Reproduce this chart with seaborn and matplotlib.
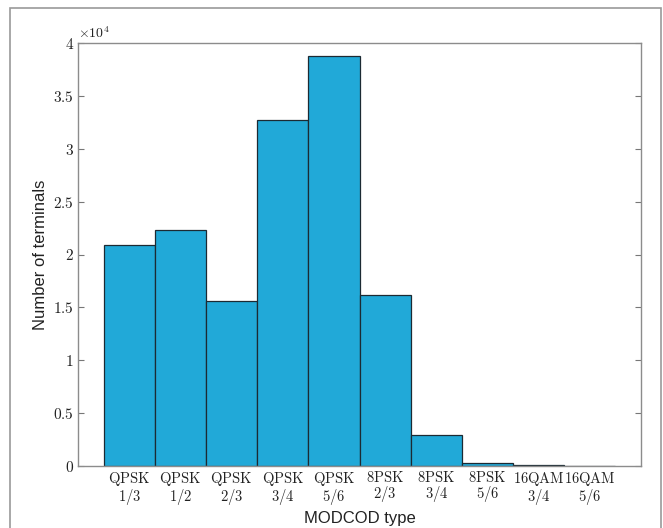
import numpy as np
import pandas as pd
import matplotlib
matplotlib.use('Agg')
import matplotlib.pyplot as plt
import matplotlib.patches as patches
from matplotlib.ticker import FixedLocator, FuncFormatter
import seaborn as sns

# values (number of terminals per MODCOD)
modulations = ['QPSK', 'QPSK', 'QPSK', 'QPSK', 'QPSK', '8PSK', '8PSK', '8PSK', '16QAM', '16QAM']
code_rates = ['1/3', '1/2', '2/3', '3/4', '5/6', '2/3', '3/4', '5/6', '3/4', '5/6']
counts = [20900, 22330, 15630, 32700, 38800, 16130, 2870, 250, 60, 5]
y_ticks = [0, 5000, 10000, 15000, 20000, 25000, 30000, 35000, 40000]

sns.set_style('white')
plt.rcParams['mathtext.fontset'] = 'cm'
plt.rcParams['font.family'] = ['Liberation Sans', 'DejaVu Sans']

df = pd.DataFrame({
    'modcod': [m + ' ' + r for m, r in zip(modulations, code_rates)],
    'count': counts,
})

fig = plt.figure(figsize=(6.63, 5.28), dpi=100)
ax_h = (465.7 - 43.3) / 528
ax = fig.add_axes([78 / 663, 1 - 465.7 / 528, (641 - 78) / 663, ax_h])

sns.barplot(data=df, x='modcod', y='count', ax=ax, color='#21a9d8', saturation=1,
            width=1.0, edgecolor='#1c2a33', linewidth=0.9)

ax.set_xlim(-1, 10)
ax.set_ylim(0, 40000)

# x tick labels in the LaTeX-like serif font
labels = [r'$\mathrm{%s}$' % m + '\n' + r'$%s$' % r for m, r in zip(modulations, code_rates)]
ax.set_xticks(range(len(labels)))
ax.set_xticklabels(labels, fontsize=10.5, color='#222222', linespacing=0.95)
ax.tick_params(axis='x', which='major', length=0, pad=3)
ax.xaxis.set_minor_locator(FixedLocator([4]))
ax.tick_params(axis='x', which='minor', direction='in', length=4, top=True, bottom=True,
               color='#777777')

ax.yaxis.set_major_locator(FixedLocator(y_ticks))
ax.yaxis.set_major_formatter(FuncFormatter(lambda v, p: r'$%g$' % (v / 1e4)))
ax.tick_params(axis='y', direction='in', length=4, left=True, right=True,
               color='#777777', labelsize=11, labelcolor='#222222', pad=3)

ax.text(0.0, 1.005, r'$\times10^{4}$', transform=ax.transAxes, fontsize=10,
        ha='left', va='bottom', color='#222222')

ax.set_xlabel('MODCOD type', fontsize=12, color='#222222')
ax.xaxis.set_label_coords(0.5, -(511 - 465.7) / (ax_h * 528))
ax.set_ylabel('Number of terminals', fontsize=12, color='#222222', labelpad=4)

for s in ax.spines.values():
    s.set_visible(True)
    s.set_color('#8c8c8c')
    s.set_linewidth(1.0)

# light frame around the whole figure
fig.patches.append(patches.Rectangle((10 / 663, -0.02), (661 - 10) / 663, 1.02 - 8 / 528,
                                     transform=fig.transFigure, fill=False,
                                     edgecolor='#9a9a9a', linewidth=1.2))

fig.savefig('out.png', dpi=100)
